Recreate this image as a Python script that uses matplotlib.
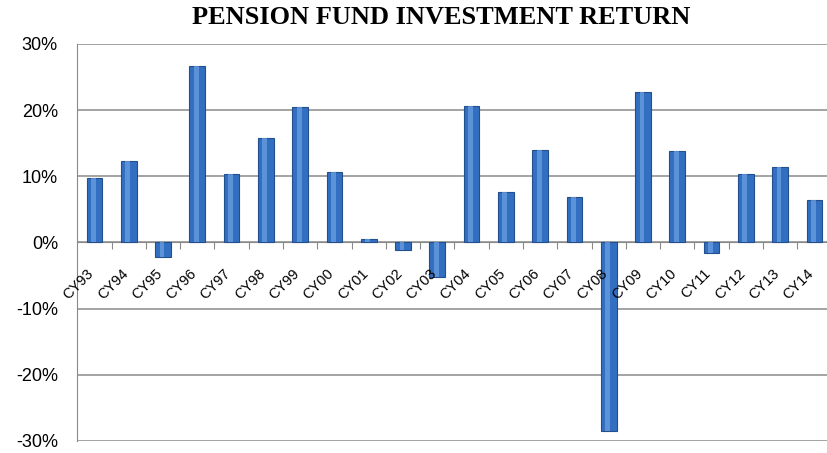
import numpy as np
import matplotlib
matplotlib.use('Agg')
import matplotlib.pyplot as plt
from matplotlib.ticker import FixedLocator, FuncFormatter

# calendar years and annual returns (%)
years = ['CY93', 'CY94', 'CY95', 'CY96', 'CY97', 'CY98', 'CY99', 'CY00', 'CY01', 'CY02', 'CY03',
         'CY04', 'CY05', 'CY06', 'CY07', 'CY08', 'CY09', 'CY10', 'CY11', 'CY12', 'CY13', 'CY14']
returns = [9.8, 12.3, -2.2, 26.6, 10.4, 15.8, 20.4, 10.7, 0.5, -1.1, -5.2,
           20.6, 7.6, 14.0, 6.8, -28.5, 22.8, 13.8, -1.6, 10.4, 11.4, 6.4]
yticks = [-30, -20, -10, 0, 10, 20, 30]

fig = plt.figure(figsize=(8.27, 4.53), dpi=100)
ax = fig.add_axes([0.0935, 0.0265, 0.912, 0.8765])

x = np.arange(len(years))
ax.bar(x, returns, width=0.46, color='#336fc0', edgecolor='#234f8e', linewidth=0.8, zorder=3)
# lighter stripe for the cylinder look
ax.bar(x - 0.03, returns, width=0.14, color='#6a9fe0', linewidth=0, zorder=4, alpha=0.75)

ax.set_xlim(-0.5, len(years) - 0.5)
ax.set_ylim(-30, 30)
ax.yaxis.set_major_locator(FixedLocator(yticks))
ax.yaxis.set_major_formatter(FuncFormatter(lambda v, p: '%d%%' % v))
ax.grid(axis='y', color='#8a8a8a', linewidth=1.1, zorder=0)
ax.tick_params(axis='y', length=0, pad=14, labelsize=13)
for lbl in ax.get_yticklabels():
    lbl.set_fontfamily('Liberation Sans')

for s in ['top', 'right']:
    ax.spines[s].set_visible(False)
ax.spines['left'].set_color('#8a8a8a')
ax.spines['bottom'].set_position(('data', 0))
ax.spines['bottom'].set_color('#8a8a8a')
ax.xaxis.set_major_locator(FixedLocator(x[:-1] + 0.5))
ax.tick_params(axis='x', direction='out', length=5, color='#8a8a8a', labelbottom=False)

for i, name in enumerate(years):
    ax.annotate(name, xy=(i + 0.06, 0), xytext=(0, -17), textcoords='offset points',
                rotation=45, ha='right', va='top', fontsize=10.5,
                family='Liberation Sans', zorder=5)

fig.text(0.534, 0.962, 'PENSION FUND INVESTMENT RETURN', ha='center', va='center',
         fontsize=19, fontweight='bold', family='Liberation Serif')

plt.savefig('out.png', dpi=100)
